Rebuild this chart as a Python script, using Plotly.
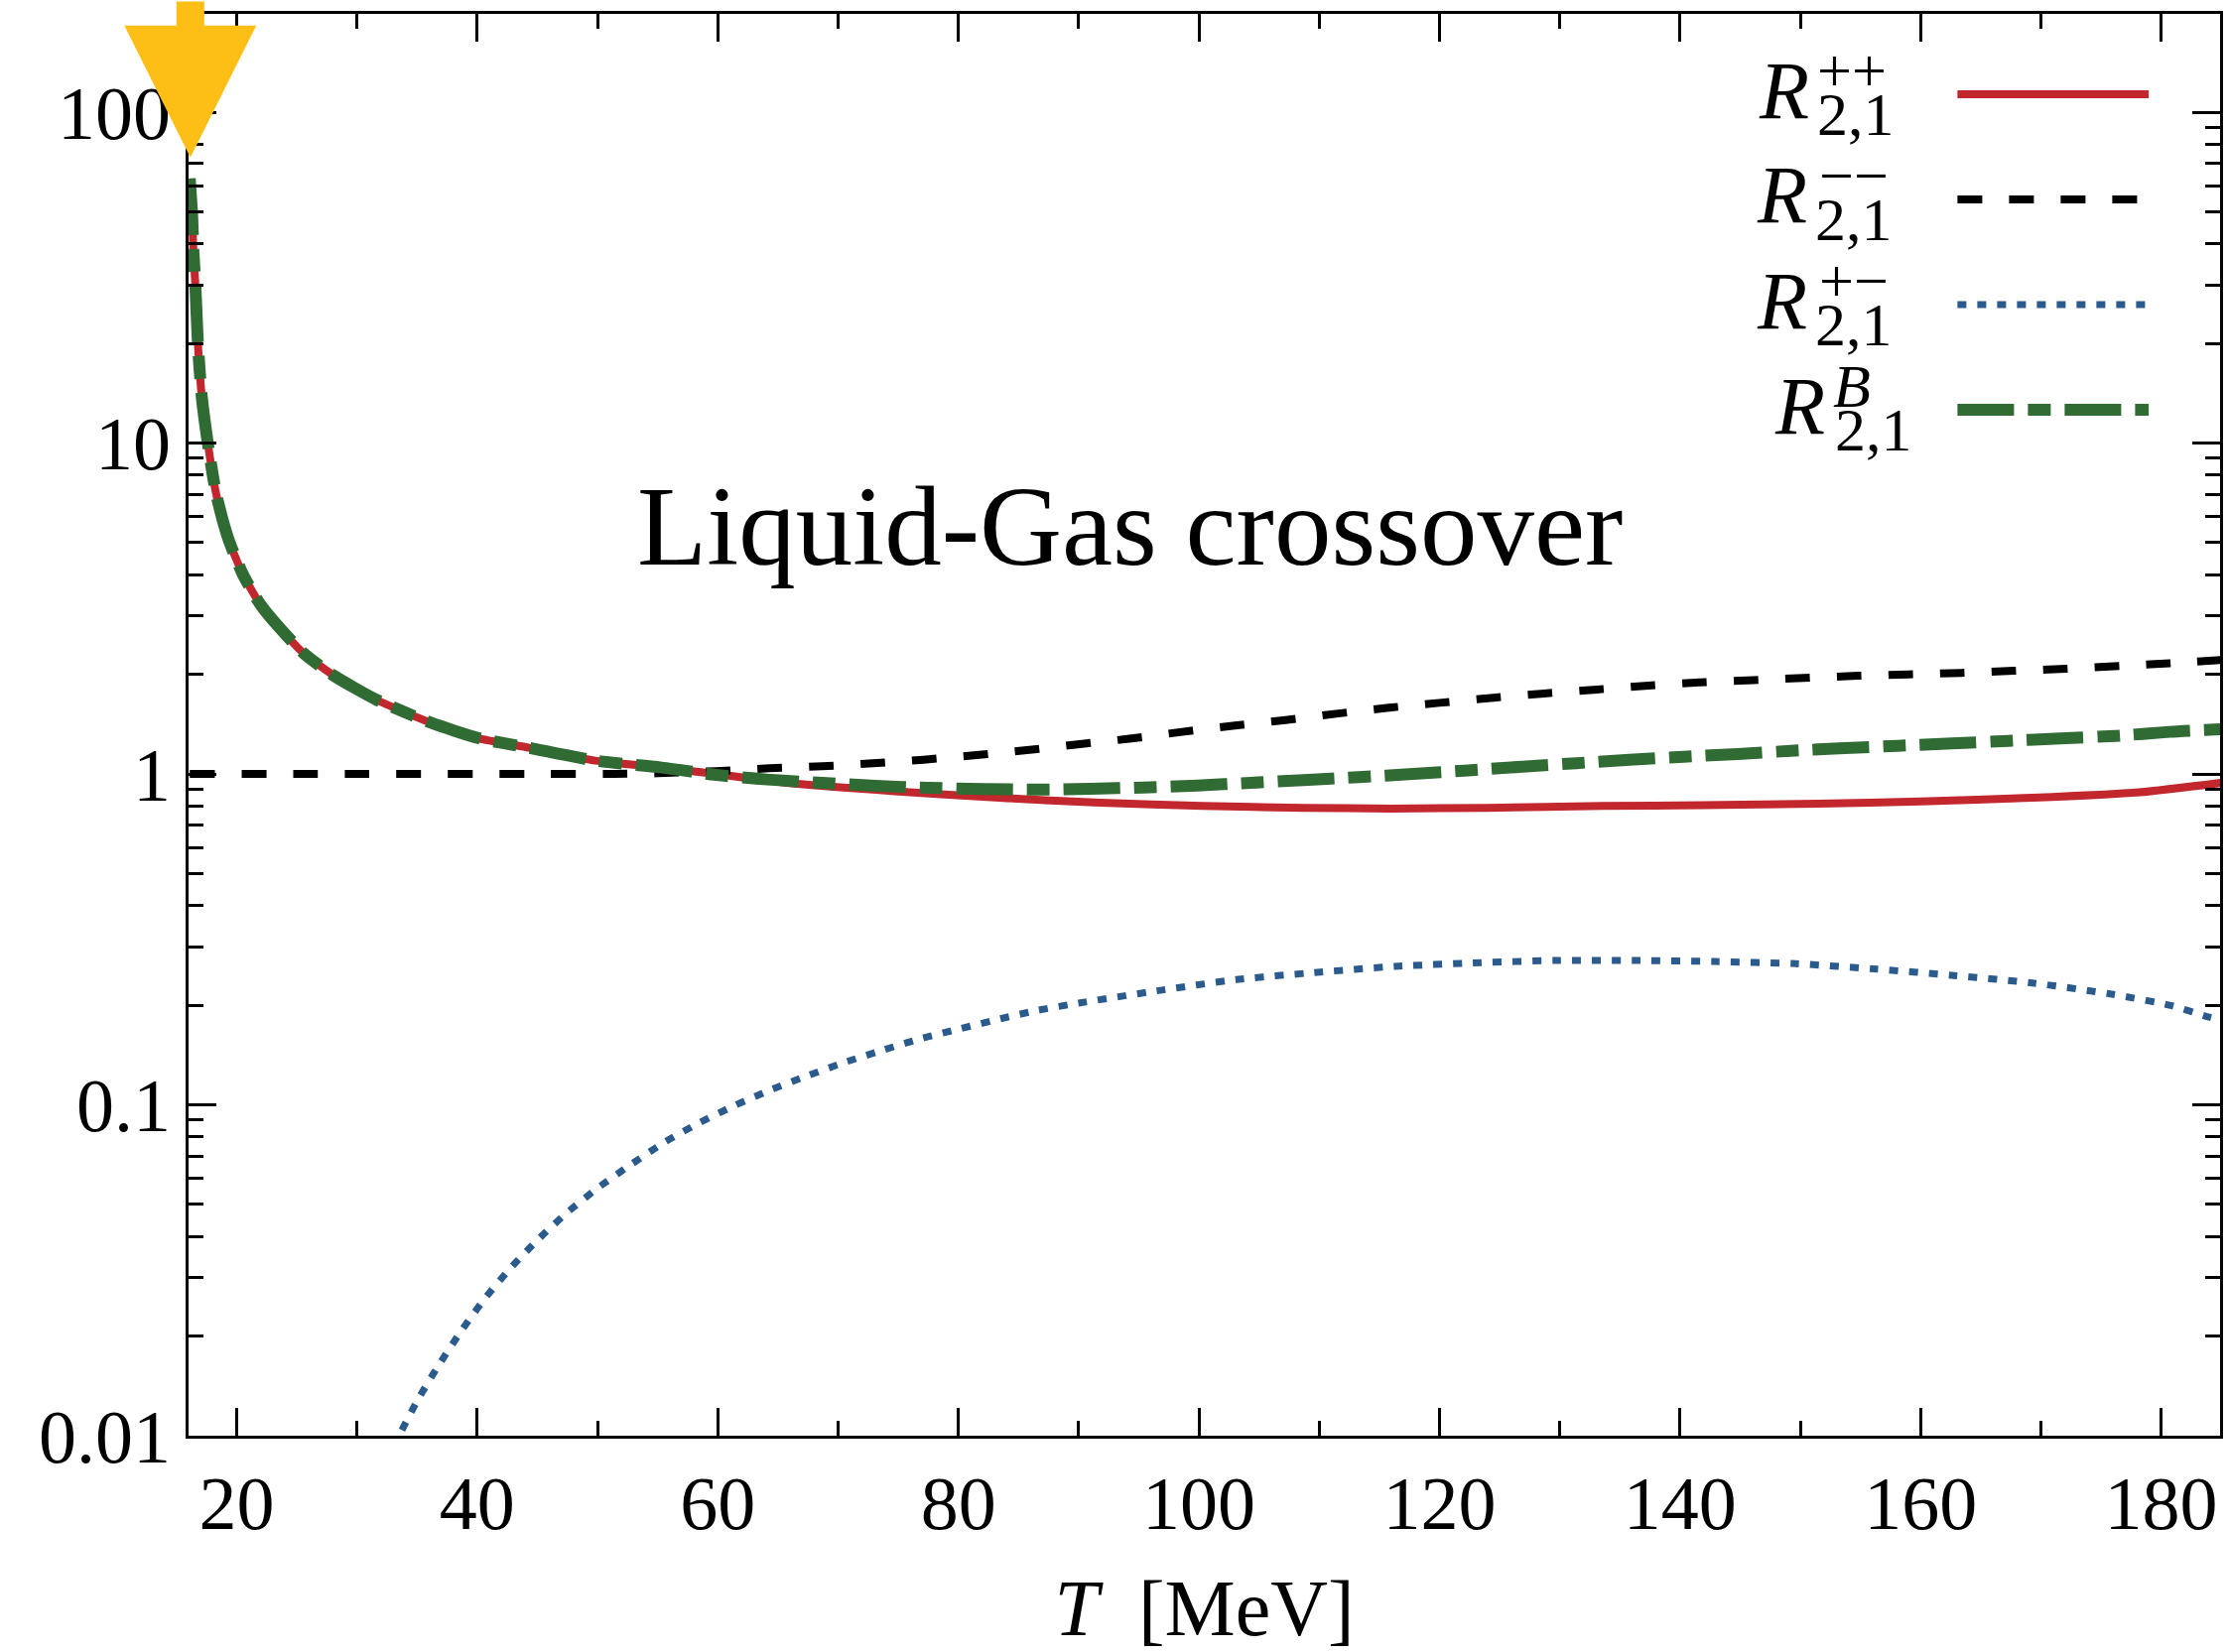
import math
import plotly.graph_objects as go

# ---------------- data ----------------
T_pp = [16.1, 16.3, 16.4, 16.55, 16.8, 17.1, 17.6, 18.3, 19.3, 20.5, 22.0, 23.7, 25.6, 28.1,
        31.7, 36.1, 40.2, 44.3, 49.8, 55.2, 59.8, 66.6, 75.0, 83.4, 91.8, 100.3, 108.7, 116.0,
        124.0, 133.6, 142.0, 151.5, 160.0, 169.3, 178.2, 185.0]
R_pp = [63.0, 48.7, 38.1, 30.7, 19.3, 13.8, 10.0, 7.0, 5.14, 4.02, 3.24, 2.73, 2.31, 1.98,
        1.67, 1.43, 1.28, 1.20, 1.097, 1.047, 1.0, 0.933, 0.885, 0.847, 0.818, 0.80, 0.79, 0.786,
        0.79, 0.80, 0.805, 0.813, 0.826, 0.847, 0.88, 0.94]

T_mm = [16.1, 30.0, 45.0, 51.4, 55.0, 59.9, 64.3, 68.7, 72.9, 77.1, 81.5, 85.7, 90.1, 94.4,
        98.6, 103.0, 107.2, 111.4, 115.8, 120.0, 124.5, 128.7, 133.1, 137.4, 141.6, 146.1,
        150.3, 154.8, 159.0, 163.4, 167.7, 172.1, 176.5, 180.7, 185.0]
R_mm = [1.0, 1.0, 1.0, 1.0, 1.005, 1.02, 1.04, 1.055, 1.077, 1.104, 1.14, 1.18, 1.23, 1.28,
        1.34, 1.40, 1.455, 1.52, 1.585, 1.64, 1.70, 1.75, 1.80, 1.85, 1.89, 1.92,
        1.95, 1.98, 2.0, 2.02, 2.05, 2.08, 2.12, 2.16, 2.21]

T_pm = [33.0, 33.5, 35.06, 36.85, 38.7, 40.6, 42.7, 45.0, 47.4, 50.0, 52.7, 55.5, 58.4, 61.4,
        64.4, 67.5, 70.7, 73.8, 77.0, 80.2, 83.5, 86.6, 90.0, 96.5, 103.1, 109.6, 116.3, 122.8,
        129.6, 136.1, 142.9, 149.6, 156.1, 162.8, 169.3, 175.9, 180.8, 184.0, 185.0]
R_pm = [0.0092, 0.0100, 0.01285, 0.01645, 0.0208, 0.0259, 0.0319, 0.039, 0.047, 0.056, 0.0657,
        0.0768, 0.088, 0.0995, 0.111, 0.1226, 0.135, 0.1466, 0.159, 0.170, 0.182, 0.193, 0.203,
        0.221, 0.239, 0.251, 0.262, 0.2685, 0.273, 0.273, 0.271, 0.267, 0.2575, 0.246, 0.2335,
        0.216, 0.1996, 0.184, 0.18]

T_B = [16.1, 16.3, 16.4, 16.55, 16.8, 17.1, 17.6, 18.3, 19.3, 20.5, 22.0, 23.7, 25.6, 28.1,
       31.7, 36.1, 40.2, 44.3, 49.8, 55.2, 59.7, 64.1, 68.7, 73.1, 77.5, 82.1, 86.6, 91.0, 95.4,
       99.9, 104.3, 108.7, 113.3, 117.8, 122.4, 126.9, 131.4, 135.8, 140.3, 144.8, 149.2, 153.7,
       158.1, 162.6, 167.3, 171.6, 176.2, 180.7, 185.0]
R_B = [63.0, 48.7, 38.1, 30.7, 19.3, 13.8, 10.0, 7.0, 5.14, 4.02, 3.24, 2.73, 2.31, 1.98,
       1.67, 1.43, 1.28, 1.20, 1.097, 1.047, 0.995, 0.962, 0.94, 0.92, 0.908, 0.90, 0.897, 0.902,
       0.91, 0.923, 0.94, 0.958, 0.978, 1.0, 1.025, 1.052, 1.078, 1.103, 1.127, 1.149, 1.174,
       1.197, 1.216, 1.236, 1.259, 1.28, 1.303, 1.34, 1.365]

X_TICKS = [20, 40, 60, 80, 100, 120, 140, 160, 180]
X_MINOR = [30, 50, 70, 90, 110, 130, 150, 170]
Y_TICKS = [0.01, 0.1, 1, 10, 100]
Y_TICKTEXT = ["0.01", "0.1", "1", "10", "100"]
Y_MINOR = [m * 10.0 ** e for e in range(-2, 3) for m in range(2, 10)]

LEGEND_SUP = ["++", "\u2212\u2212", "+\u2212", "<i>B</i>"]
LEGEND_SUB = "2,1"
TITLE_TEXT = "Liquid-Gas crossover"

# ---------------- style ----------------
RED = "#C1272D"
BLACK = "#000000"
BLUE = "#2A5B8C"
GREEN = "#2F6B33"
GOLD = "#FDBE16"
FONT = "Liberation Serif"

W, H = 2245, 1665
L, R, TOP, B = 190, 5, 14, 218
PW, PH = W - L - R, H - TOP - B


def px(xp):
    return (xp - L) / PW


def py(yp):
    return (H - B - yp) / PH


fig = go.Figure()
fig.add_trace(go.Scatter(x=T_pp, y=R_pp, mode="lines", showlegend=False,
                         line=dict(color=RED, width=8, shape="spline", smoothing=0.6)))
fig.add_trace(go.Scatter(x=T_mm, y=R_mm, mode="lines", showlegend=False,
                         line=dict(color=BLACK, width=8, dash="25px,27px", shape="spline", smoothing=0.6)))
fig.add_trace(go.Scatter(x=T_pm, y=R_pm, mode="lines", showlegend=False,
                         line=dict(color=BLUE, width=7, dash="9px,11px", shape="spline", smoothing=0.6)))
fig.add_trace(go.Scatter(x=T_B, y=R_B, mode="lines", showlegend=False,
                         line=dict(color=GREEN, width=12, dash="57px,14px,23px,14px",
                                   shape="spline", smoothing=0.6)))

# legend (text left, sample line right)
leg_styles = [dict(color=RED, width=8, dash="solid"),
              dict(color=BLACK, width=8, dash="25px,27px"),
              dict(color=BLUE, width=7, dash="9px,11px"),
              dict(color=GREEN, width=12, dash="57px,14px,23px,14px")]
baselines = [118, 224, 330, 436]
r_x = [1772, 1770, 1770, 1788]
sup_x = [1831, 1833, 1833, 1847]
sub_x = [1831, 1829, 1829, 1849]
annotations = []
shapes = []
for i in range(4):
    b = baselines[i]
    annotations.append(dict(xref="paper", yref="paper", x=px(r_x[i]), y=py(b - 27),
                            xanchor="left", yanchor="middle", showarrow=False, text="<i>R</i>",
                            font=dict(family=FONT, size=82, color="black")))
    annotations.append(dict(xref="paper", yref="paper", x=px(sup_x[i]), y=py(b - 47),
                            xanchor="left", yanchor="middle", showarrow=False, text=LEGEND_SUP[i],
                            font=dict(family=FONT, size=62, color="black")))
    annotations.append(dict(xref="paper", yref="paper", x=px(sub_x[i]), y=py(b - 3),
                            xanchor="left", yanchor="middle", showarrow=False, text=LEGEND_SUB,
                            font=dict(family=FONT, size=62, color="black")))
    shapes.append(dict(type="line", xref="paper", yref="paper", x0=px(1975), x1=px(2168),
                       y0=py(b - 23), y1=py(b - 23), line=leg_styles[i]))

annotations.append(dict(xref="paper", yref="paper", x=px(1140), y=py(530), xanchor="center",
                        yanchor="middle", showarrow=False, text=TITLE_TEXT,
                        font=dict(family=FONT, size=115, color="black")))

# hand-drawn style arrow pointing at the divergence
annotations.append(dict(x=16.15, y=math.log10(73.0), xref="x", yref="y", text="", showarrow=True,
                        ax=0, ay=-180, arrowhead=2, arrowsize=0.95, arrowwidth=28,
                        arrowcolor=GOLD))

axis_common = dict(showline=True, linecolor="black", linewidth=2.5, mirror="ticks",
                   ticks="inside", ticklen=28, tickwidth=2.5, tickcolor="black",
                   showgrid=False, zeroline=False,
                   tickfont=dict(family=FONT, size=76, color="black"))

fig.update_layout(
    width=W, height=H,
    margin=dict(l=L, r=R, t=TOP, b=B, pad=0),
    paper_bgcolor="white", plot_bgcolor="white",
    xaxis=dict(range=[16, 184.9], tickvals=X_TICKS, ticklabelstandoff=0,
               minor=dict(ticks="inside", ticklen=15, tickwidth=2.5, tickcolor="black",
                          tickvals=X_MINOR),
               title=dict(text="<i>T</i>\u2002[MeV]", font=dict(family=FONT, size=80, color="black"),
                          standoff=38),
               **axis_common),
    yaxis=dict(type="log", range=[-2, 2.297], tickvals=Y_TICKS, ticktext=Y_TICKTEXT,
               ticklabelstandoff=0,
               minor=dict(ticks="inside", ticklen=15, tickwidth=2.5, tickcolor="black",
                          tickvals=Y_MINOR),
               **axis_common),
    annotations=annotations,
    shapes=shapes,
    showlegend=False,
)

fig.write_html("out.html")
